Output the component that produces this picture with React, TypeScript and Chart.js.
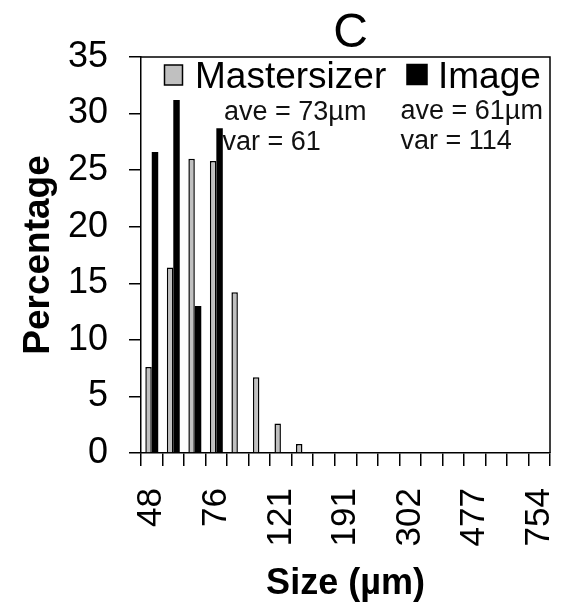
import React, { useEffect, useRef } from 'react';
import { Chart, registerables } from 'chart.js';

Chart.register(...registerables);

// ---- data ----
const categories = ['48', '56', '65', '76', '88', '103', '121', '141', '164', '191', '223', '259', '302', '352', '410', '477', '556', '648', '754'];
const labeledTicks = ['48', '76', '121', '191', '302', '477', '754'];
const seriesNames = ['Mastersizer', 'Image'];
const mastersizerValues = [7.6, 16.4, 26.0, 25.8, 14.2, 6.7, 2.6, 0.8, 0, 0, 0, 0, 0, 0, 0, 0, 0, 0, 0];
const imageValues = [26.6, 31.2, 13.0, 28.7, 0, 0, 0, 0, 0, 0, 0, 0, 0, 0, 0, 0, 0, 0, 0];
const mastersizerStats = ['ave = 73µm', 'var = 61'];
const imageStats = ['ave = 61µm', 'var = 114'];
const yMin = 0;
const yMax = 35;
const yStep = 5;
const chartTitle = 'C';
const xTitle = 'Size (µm)';
const yTitle = 'Percentage';

const FAMILY = "'Liberation Sans', Arial, Helvetica, sans-serif";

const overlayPlugin = {
  id: 'overlay',
  afterDraw(chart: any) {
    const { ctx, chartArea } = chart;
    const { left, right, top, bottom } = chartArea;
    ctx.save();
    // frame top & right
    ctx.strokeStyle = '#000';
    ctx.lineWidth = 1.5;
    ctx.beginPath();
    ctx.moveTo(left, top);
    ctx.lineTo(right, top);
    ctx.lineTo(right, bottom);
    ctx.stroke();

    // title
    ctx.fillStyle = '#000';
    ctx.font = `48px ${FAMILY}`;
    ctx.textAlign = 'center';
    ctx.textBaseline = 'alphabetic';
    ctx.fillText(chartTitle, 350.5, 46.5);

    // legend
    const ds = chart.data.datasets;
    const boxes = [
      { x: 164.5, y: 65, w: 18, h: 20, tx: 195 },
      { x: 407, y: 64.5, w: 20, h: 20, tx: 438 },
    ];
    ctx.font = `37px ${FAMILY}`;
    ctx.textAlign = 'left';
    ds.forEach((d: any, i: number) => {
      const b = boxes[i];
      ctx.fillStyle = d.backgroundColor;
      ctx.fillRect(b.x, b.y, b.w, b.h);
      ctx.strokeStyle = '#000';
      ctx.lineWidth = 1.5;
      ctx.strokeRect(b.x, b.y, b.w, b.h);
      ctx.fillStyle = '#000';
      ctx.fillText(d.label, b.tx, 87.5);
    });

    // stats annotations
    ctx.font = `27px ${FAMILY}`;
    ctx.fillStyle = '#111';
    ctx.fillText(mastersizerStats[0], 224, 120);
    ctx.fillText(mastersizerStats[1], 222.5, 150);
    ctx.fillText(imageStats[0], 400.5, 118.5);
    ctx.fillText(imageStats[1], 400.5, 148.5);
    ctx.restore();
  },
};

export default function App() {
  const canvasRef = useRef<HTMLCanvasElement | null>(null);

  useEffect(() => {
    if (!canvasRef.current) return;
    const chart = new Chart(canvasRef.current, {
      type: 'bar',
      data: {
        labels: categories,
        datasets: [
          {
            label: seriesNames[0],
            data: mastersizerValues,
            backgroundColor: '#c0c0c0',
            borderColor: '#000',
            borderWidth: 1.5,
            categoryPercentage: 0.6,
            barPercentage: 1.0,
          },
          {
            label: seriesNames[1],
            data: imageValues,
            backgroundColor: '#000',
            borderColor: '#000',
            borderWidth: 0,
            categoryPercentage: 0.6,
            barPercentage: 1.0,
          },
        ],
      },
      options: {
        animation: false,
        responsive: true,
        maintainAspectRatio: false,
        layout: { padding: { left: 0, right: 13, top: 57, bottom: 0 } },
        plugins: {
          legend: { display: false },
          title: { display: false },
          tooltip: { enabled: false },
        },
        scales: {
          x: {
            offset: true,
            ticks: {
              autoSkip: false,
              maxRotation: 90,
              minRotation: 90,
              padding: 22,
              color: '#000',
              font: { size: 35, family: FAMILY },
              callback: function (this: any, value: any) {
                const lab = this.getLabelForValue(value);
                return labeledTicks.includes(lab) ? lab : '';
              },
            },
            grid: {
              offset: true,
              drawOnChartArea: false,
              drawTicks: true,
              tickLength: 13,
              color: '#000',
              lineWidth: 1.5,
            },
            border: { display: true, color: '#000', width: 1.5 },
            title: {
              display: true,
              text: xTitle,
              color: '#000',
              font: { size: 36, weight: 'bold', family: FAMILY, lineHeight: 1 },
              padding: { top: 0, bottom: 4 },
            },
            afterFit: (s: any) => {
              s.height = 153;
              s.paddingLeft = 0;
              s.paddingRight = 0;
            },
          },
          y: {
            min: yMin,
            max: yMax,
            ticks: {
              stepSize: yStep,
              padding: 21,
              color: '#000',
              font: { size: 36, family: FAMILY },
            },
            grid: {
              drawOnChartArea: false,
              drawTicks: true,
              tickLength: 12,
              color: '#000',
              lineWidth: 1.5,
            },
            border: { display: true, color: '#000', width: 1.5 },
            title: {
              display: true,
              text: yTitle,
              color: '#000',
              font: { size: 37, weight: 'bold', family: FAMILY, lineHeight: 1 },
              padding: { top: 20, bottom: 0 },
            },
            afterFit: (s: any) => {
              s.width = 141;
              s.paddingTop = 0;
              s.paddingBottom = 0;
            },
          },
        },
      },
      plugins: [overlayPlugin],
    } as any);
    return () => chart.destroy();
  }, []);

  return (
    <div style={{ position: 'fixed', left: 0, top: 0, width: 563, height: 606, background: '#fff' }}>
      <canvas ref={canvasRef} />
    </div>
  );
}
